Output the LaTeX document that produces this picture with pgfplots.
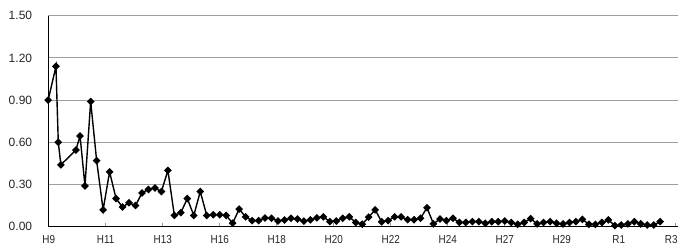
\documentclass[border=0pt]{standalone}
\usepackage{pgfplots}
\pgfplotsset{compat=1.18}
\usepackage{fontspec}
\setmainfont{Liberation Sans}
\begin{document}
\begin{tikzpicture}
\begin{axis}[
  at={(0,0)}, anchor=south west,
  scale only axis, width=630bp, height=211bp,
  xmin=1997.473, xmax=2021.788, ymin=0, ymax=1.5,
  axis x line*=bottom, axis y line*=left,
  x axis line style={black, line width=1.1bp, -},
  y axis line style={black, line width=0.9bp, -},
  ytick={0,0.3,0.6,0.9,1.2,1.5},
  /pgf/number format/assume math mode=true,
  yticklabel style={/pgf/number format/fixed, /pgf/number format/fixed zerofill, /pgf/number format/precision=2},
  ymajorgrids, major grid style={draw=black!38, line width=0.9bp},
  xtick={1997.5,1999.7,2001.9,2004.1,2006.3,2008.5,2010.7,2012.9,2015.1,2017.3,2019.5,2021.7},
  xticklabels={H9,H11,H13,H16,H18,H20,H22,H24,H27,H29,R1,R3\hspace*{10bp}},
  tick align=inside, major tick length=3.5bp,
  xtick style={black!40, line width=0.8bp},
  ytick style={draw=none},
  x tick label style={font=\fontsize{11bp}{11bp}\selectfont, inner sep=0pt, anchor=north, yshift=-8.5bp, xscale=0.9, yscale=1.05, text=black!85},
  y tick label style={font=\fontsize{12bp}{12bp}\selectfont, inner sep=0pt, anchor=east, xshift=-15.7bp, text=black!85},
  clip=false,
]
\addplot[black, line width=1.4bp, mark=square*, mark size=2.05bp, mark options={rotate=45, solid}] coordinates {
(1997.48,0.90) (1997.78,1.14) (1997.87,0.60) (1997.97,0.44)
(1998.55,0.545) (1998.71,0.645) (1998.90,0.29) (1999.12,0.89)
(1999.35,0.47) (1999.60,0.12) (1999.85,0.39) (2000.10,0.20)
(2000.35,0.14) (2000.60,0.17) (2000.85,0.15) (2001.10,0.24)
(2001.35,0.265) (2001.60,0.275) (2001.85,0.25) (2002.10,0.40)
(2002.35,0.08) (2002.60,0.10) (2002.85,0.20) (2003.10,0.08)
(2003.35,0.25) (2003.60,0.08) (2003.85,0.085) (2004.10,0.085)
(2004.35,0.08) (2004.60,0.025) (2004.85,0.125) (2005.10,0.07)
(2005.35,0.043) (2005.60,0.043) (2005.85,0.062) (2006.10,0.06)
(2006.35,0.04) (2006.60,0.048) (2006.85,0.06) (2007.10,0.055)
(2007.35,0.04) (2007.60,0.048) (2007.85,0.063) (2008.10,0.07)
(2008.35,0.036) (2008.60,0.04) (2008.85,0.06) (2009.10,0.07)
(2009.35,0.03) (2009.60,0.018) (2009.85,0.068) (2010.10,0.12)
(2010.35,0.035) (2010.60,0.043) (2010.85,0.07) (2011.10,0.07)
(2011.35,0.05) (2011.60,0.05) (2011.85,0.06) (2012.10,0.135)
(2012.35,0.02) (2012.60,0.055) (2012.85,0.043) (2013.10,0.06)
(2013.35,0.03) (2013.60,0.03) (2013.85,0.036) (2014.10,0.036)
(2014.35,0.024) (2014.60,0.036) (2014.85,0.036) (2015.10,0.04)
(2015.35,0.03) (2015.60,0.017) (2015.85,0.03) (2016.10,0.057)
(2016.35,0.02) (2016.60,0.03) (2016.85,0.036) (2017.10,0.024)
(2017.35,0.02) (2017.60,0.03) (2017.85,0.036) (2018.10,0.052)
(2018.35,0.017) (2018.60,0.017) (2018.85,0.03) (2019.10,0.048)
(2019.35,0.008) (2019.60,0.012) (2019.85,0.02) (2020.10,0.036)
(2020.35,0.02) (2020.60,0.012) (2020.85,0.012) (2021.10,0.036)
};
\end{axis}
\pgfresetboundingbox
\path (-48bp,-18.3bp) rectangle (630bp,226.7bp);
\end{tikzpicture}
\end{document}
